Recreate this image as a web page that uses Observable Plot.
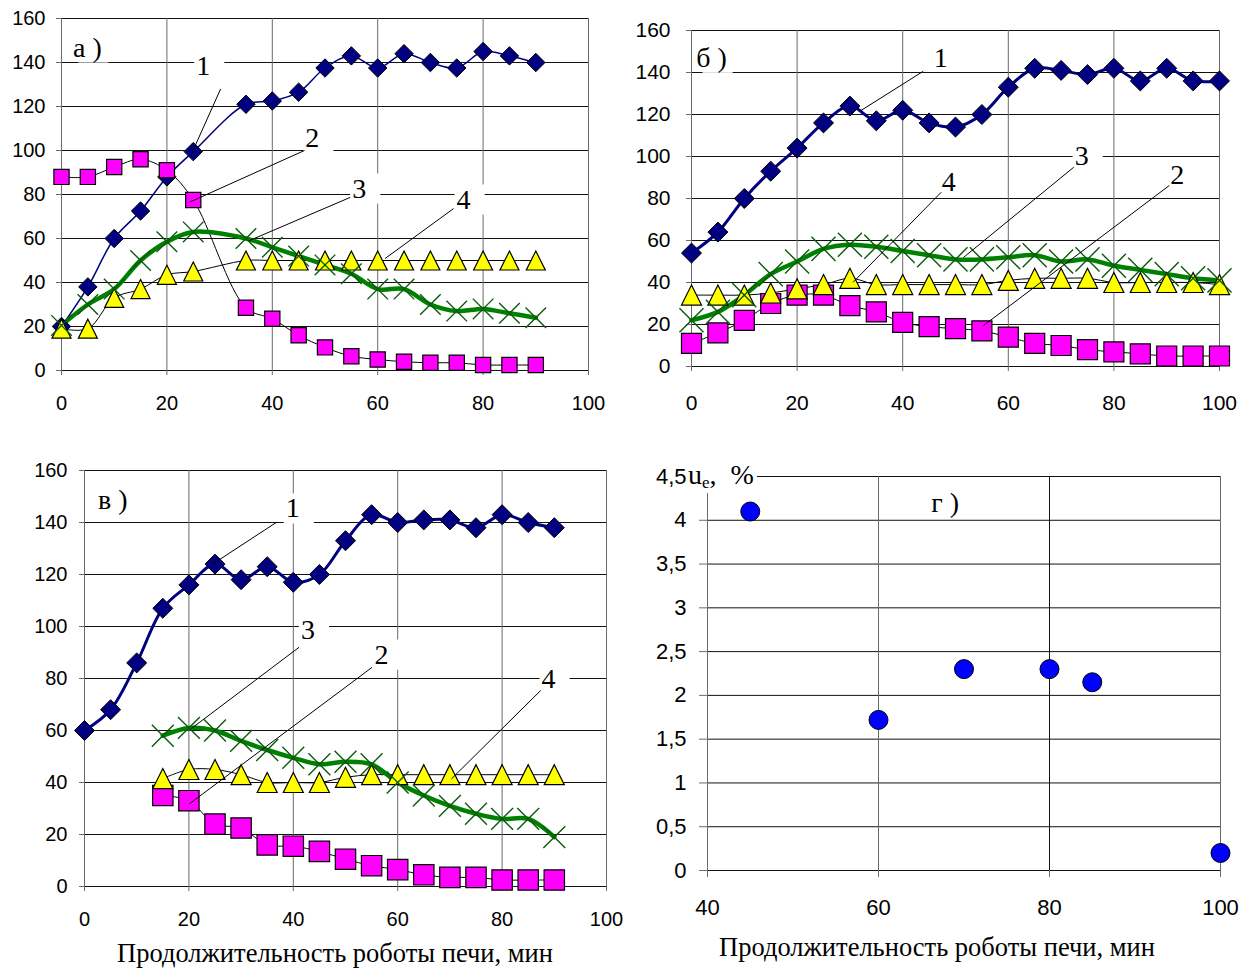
<!DOCTYPE html>
<html><head><meta charset="utf-8">
<script src="https://cdn.jsdelivr.net/npm/d3@7"></script>
<script src="https://cdn.jsdelivr.net/npm/@observablehq/plot@0.6"></script>
<style>
body{margin:0;background:#fff;}
#wrap{position:relative;width:1246px;height:968px;overflow:hidden;background:#fff;}
.panel{position:absolute;}
.panel svg{overflow:visible;}
.xtitle{position:absolute;font-family:"Liberation Serif","Times New Roman",serif;font-size:26.5px;white-space:nowrap;transform:translate(-50%,-50%);color:#000;}
.ulab{position:absolute;font-family:"Liberation Serif","Times New Roman",serif;font-size:28px;background:#fff;color:#000;line-height:36px;height:36px;padding:0 3px 0 1px;white-space:nowrap;}
.ulab sub{font-size:17px;vertical-align:-4px;}
</style></head><body><div id="wrap"></div>
<script>
// ---------- data ----------
const xTicks = [0, 20, 40, 60, 80, 100];
const yTicks = [0, 20, 40, 60, 80, 100, 120, 140, 160];

// panel а
const xA = [0,5,10,15,20,25,35,40,45,50,55,60,65,70,75,80,85,90];
const a1 = [20,38,60,72.5,88,99.5,121,122.5,126.5,137.5,143,137.5,144,140,137.5,145,143,140];
const a2 = [88,88,92.5,96,91,77.5,28.5,23.5,16,10.5,6.5,5,4,3.5,3.5,2.5,2.5,2.5];
const a3 = [20.5,30,37,50,58.5,63,60,56,52,48,44,37,37,30,27,28,26,24];
const a4 = [19,19,33,37,43.5,45,50,50,50,50,50,50,50,50,50,50,50,50];

// panel б
const xB = [0,5,10,15,20,25,30,35,40,45,50,55,60,65,70,75,80,85,90,95,100];
const b1 = [54,64,80,93,104,116,124,117,122,116,114,120,133,142,141,139,142,136,142,136,136];
const b2 = [11,16,22,30,34,34,29,26,21,19,18,17,14,11,10,8,7,6,5,5,5];
const b3 = [22,26,34,44,50,56,58,57,55,53,51,51,52,53,50,51,48,46,44,42,41];
const b4 = [34,34,34,35,37,39,42,39,39,39,39,39,41,42,42,42,40,40,40,40,39];

// panel в
const xC1 = [0,5,10,15,20,25,30,35,40,45,50,55,60,65,70,75,80,85,90];
const c1 = [60,68,86,107,116,124,118,123,117,120,133,143,140,141,141,138,143,140,138];
const xC2 = [15,20,25,30,35,40,45,50,55,60,65,70,75,80,85,90];
const c2 = [35,33,24,22.5,16,15.5,13.5,10.5,8,6.5,4.5,3.5,3.5,2.5,2.5,2.5];
const c3 = [58,61,60,56,52.5,49.5,47,48,47,40,35,31,28,26,26,19];
const c4 = [41.5,45,45,43,40,40,40,42,43,43,43,43,43,43,43,43];

// panel г
const xTicksD = [40, 60, 80, 100];
const yTicksD = [0, 0.5, 1, 1.5, 2, 2.5, 3, 3.5, 4, 4.5];
const xD = [45, 60, 70, 80, 85, 100];
const d1 = [4.1, 1.72, 2.3, 2.3, 2.15, 0.2];

// annotations (curve numbers and leader lines, in data units)
const annA = [
  {t:"а )", x:4.9, y:146.8, box:true},
  {t:"1", x:26.9, y:138.6, box:true},
  {t:"2", x:47.6, y:105.5, box:true},
  {t:"3", x:56.5, y:82.7, box:true},
  {t:"4", x:76.3, y:77.7, box:true}];
const leadA = [
  {x1:30.2,y1:128,x2:24.7,y2:98.6},
  {x1:46.1,y1:100,x2:24.3,y2:76.5},
  {x1:54.8,y1:78.7,x2:35.6,y2:59},
  {x1:74.4,y1:73.6,x2:61.4,y2:50.9}];
const annB = [
  {t:"б )", x:3.8, y:147, box:true},
  {t:"1", x:47.2, y:147, box:false},
  {t:"3", x:73.9, y:100, box:true},
  {t:"2", x:92, y:91.4, box:true},
  {t:"4", x:48.7, y:88, box:false}];
const leadB = [
  {x1:43.9,y1:140.6,x2:32.1,y2:121.9},
  {x1:72.4,y1:94.9,x2:51.5,y2:51.9},
  {x1:90.5,y1:86.2,x2:55.3,y2:19.5},
  {x1:47.3,y1:83,x2:30.6,y2:40.1}];
const annC = [
  {t:"в )", x:5.4, y:148.5, box:false},
  {t:"1", x:39.9, y:145.4, box:true},
  {t:"3", x:42.8, y:98.5, box:true},
  {t:"2", x:56.9, y:89.2, box:true},
  {t:"4", x:88.9, y:79.8, box:true}];
const leadC = [
  {x1:36.8,y1:140.1,x2:24.7,y2:124.2},
  {x1:41.1,y1:92,x2:20.5,y2:60.8},
  {x1:55.1,y1:84.3,x2:20.1,y2:31.8},
  {x1:87.4,y1:75.4,x2:70.3,y2:41.4}];
const annD = [{t:"г )", x:67.8, y:4.2}];
const xTitle = "Продолжительность роботы печи, мин";

// ---------- drawing ----------
const SANS = "'Liberation Sans', Arial, sans-serif";
const SERIF = "'Liberation Serif', 'Times New Roman', serif";
const NAVY = "#000080", MAG = "#ff00ff", YEL = "#ffff00", GRN = "#008000", XGRN = "#0a5a0a";
const wrap = document.getElementById("wrap");

// Excel-like triangle: height equal to width, centred on its bounding box; half-size = r
const triSymbol = {
  draw(ctx, size) {
    const s = Math.sqrt(size / Math.PI);
    ctx.moveTo(0, -s);
    ctx.lineTo(s, s);
    ctx.lineTo(-s, s);
    ctx.closePath();
  }
};

function pts(xs, ys) { return xs.map((x, i) => ({x, y: ys[i]})); }

function place(node, left, top) {
  const d = document.createElement("div");
  d.className = "panel";
  d.style.left = left + "px";
  d.style.top = top + "px";
  d.appendChild(node);
  wrap.appendChild(d);
}

function linePanel(o) {
  const s1 = pts(o.x1, o.v1), s2 = pts(o.x2, o.v2), s3 = pts(o.x2, o.v3), s4 = pts(o.x2, o.v4);
  const p = Plot.plot({
    width: o.w, height: o.h,
    marginLeft: o.ml, marginRight: o.mr, marginTop: o.mt, marginBottom: o.mb,
    style: {fontFamily: SANS, fontSize: o.fs + "px", background: "transparent", overflow: "visible", color: "#000"},
    x: {domain: [0, 100], axis: null, label: null},
    y: {domain: [0, 160], axis: null, label: null},
    marks: [
      Plot.gridY(yTicks, {stroke: "#111", strokeOpacity: 1}),
      Plot.gridX(xTicks, {stroke: "#6a6a6a", strokeOpacity: 1}),
      Plot.axisY(yTicks, {tickSize: 5, tickPadding: o.yPad, fontSize: o.fs, stroke: "#6a6a6a", label: null}),
      Plot.axisX(xTicks, {tickSize: 5, tickPadding: o.xPad, fontSize: o.fs, stroke: "#6a6a6a", label: null}),
      Plot.dot(o.ann.filter(d => d.box), {x: "x", y: "y", symbol: "square", r: 17, fill: "white", dx: 6}),
      Plot.line(s1, {x: "x", y: "y", stroke: NAVY, strokeWidth: o.w1, curve: "catmull-rom"}),
      Plot.line(s2, {x: "x", y: "y", stroke: "#000", strokeWidth: 1, curve: "catmull-rom"}),
      Plot.line(s4, {x: "x", y: "y", stroke: "#000", strokeWidth: 1, curve: "catmull-rom"}),
      Plot.line(s3, {x: "x", y: "y", stroke: GRN, strokeWidth: 4.5, curve: "catmull-rom"}),
      Plot.dot(s1, {x: "x", y: "y", symbol: "diamond2", r: o.r1, fill: NAVY, stroke: "#000", strokeWidth: 1}),
      Plot.dot(s2, {x: "x", y: "y", symbol: "square", r: o.r2, fill: MAG, stroke: "#000", strokeWidth: 1.2}),
      Plot.dot(s4, {x: "x", y: "y", symbol: triSymbol, r: o.r4, fill: YEL, stroke: "#000", strokeWidth: 1.2}),
      Plot.dot(s3, {x: "x", y: "y", symbol: "times", r: o.r3, stroke: XGRN, strokeWidth: 1.4}),
      Plot.link(o.lead, {x1: "x1", y1: "y1", x2: "x2", y2: "y2", stroke: "#000", strokeWidth: 1}),
      Plot.text(o.ann, {x: "x", y: "y", text: "t", fontFamily: SERIF, fontSize: 28, fill: "#000"})
    ]
  });
  place(p, o.left, o.top);
}

linePanel({left: 0, top: 0, w: 600, h: 420, ml: 61, mr: 12, mt: 18, mb: 50, fs: 20, yPad: 11, xPad: 20,
  x1: xA, v1: a1, x2: xA, v2: a2, v3: a3, v4: a4, w1: 1.5, r1: 8.3, r2: 8.6, r3: 9.4, r4: 9.5,
  ann: annA, lead: leadA});
linePanel({left: 620, top: 0, w: 626, h: 420, ml: 71, mr: 27, mt: 30, mb: 54, fs: 21, yPad: 16, xPad: 24,
  x1: xB, v1: b1, x2: xB, v2: b2, v3: b3, v4: b4, w1: 3, r1: 9, r2: 11.3, r3: 11, r4: 10,
  ann: annB, lead: leadB});
linePanel({left: 0, top: 450, w: 640, h: 518, ml: 84, mr: 34, mt: 20, mb: 82, fs: 20, yPad: 12, xPad: 20,
  x1: xC1, v1: c1, x2: xC2, v2: c2, v3: c3, v4: c4, w1: 3, r1: 9, r2: 11.5, r3: 10, r4: 10,
  ann: annC, lead: leadC});

// panel г
const comma = d => String(d).replace(".", ",");
const pD = Plot.plot({
  width: 606, height: 518, marginLeft: 67, marginRight: 26, marginTop: 26, marginBottom: 98,
  style: {fontFamily: SANS, fontSize: "22px", background: "transparent", overflow: "visible", color: "#000"},
  x: {domain: [40, 100], axis: null, label: null},
  y: {domain: [0, 4.5], axis: null, label: null},
  marks: [
    Plot.gridY(yTicksD, {stroke: "#111", strokeOpacity: 1}),
    Plot.gridX(xTicksD.filter(v => v !== 80), {stroke: "#6a6a6a", strokeOpacity: 1}),
    Plot.gridX(xTicksD.filter(v => v === 80), {stroke: "#111", strokeOpacity: 1}),
    Plot.axisY(yTicksD, {tickSize: 8, tickPadding: 13, fontSize: 22, stroke: "#6a6a6a", tickFormat: comma, label: null}),
    Plot.axisX(xTicksD, {tickSize: 7, tickPadding: 22, fontSize: 22, stroke: "#6a6a6a", label: null}),
    Plot.dot(pts(xD, d1), {x: "x", y: "y", r: 9.5, fill: "#0000ff", stroke: "#000", strokeWidth: 1}),
    Plot.text(annD, {x: "x", y: "y", text: "t", fontFamily: SERIF, fontSize: 28, fill: "#000"})
  ]
});
place(pD, 640, 450);

// texts outside the SVGs
function addDiv(cls, html, left, top) {
  const d = document.createElement("div");
  d.className = cls;
  d.innerHTML = html;
  d.style.left = left + "px";
  d.style.top = top + "px";
  wrap.appendChild(d);
  return d;
}
addDiv("xtitle", xTitle, 335, 953);
addDiv("xtitle", xTitle, 937, 947);
addDiv("ulab", "u<sub>e</sub>,&nbsp;&nbsp;%", 687, 457);
</script>
</body></html>
